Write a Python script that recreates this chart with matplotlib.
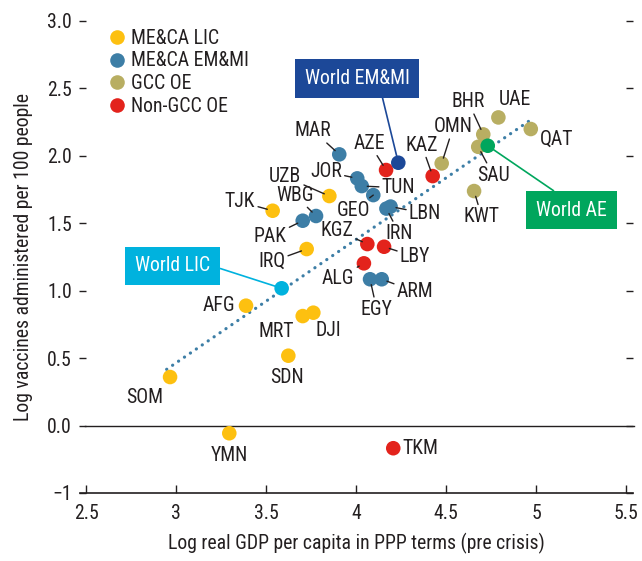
import matplotlib
matplotlib.use("Agg")
import matplotlib.pyplot as plt
from matplotlib import font_manager as fm
from matplotlib.lines import Line2D

# ---------------- data ----------------
countries = ["SOM", "YMN", "AFG", "MRT", "DJI", "SDN", "TJK", "IRQ", "UZB",
             "PAK", "WBG", "MAR", "JOR", "TUN", "GEO", "IRN", "LBN", "EGY", "ARM",
             "AZE", "KAZ", "KGZ", "LBY", "ALG", "TKM",
             "OMN", "BHR", "SAU", "UAE", "QAT", "KWT"]
gdp = [2.967, 3.296, 3.389, 3.704, 3.763, 3.624, 3.537, 3.726, 3.852,
       3.704, 3.778, 3.907, 4.007, 4.032, 4.096, 4.169, 4.192, 4.078, 4.143,
       4.167, 4.426, 4.063, 4.156, 4.044, 4.207,
       4.476, 4.707, 4.679, 4.791, 4.971, 4.656]
vacc = [0.360, -0.057, 0.889, 0.812, 0.837, 0.518, 1.593, 1.309, 1.702,
        1.519, 1.554, 2.011, 1.833, 1.776, 1.709, 1.609, 1.624, 1.085, 1.085,
        1.895, 1.850, 1.346, 1.326, 1.203, -0.168,
        1.944, 2.159, 2.067, 2.285, 2.199, 1.739]
group = ["ME&CA LIC"] * 9 + ["ME&CA EM&MI"] * 10 + ["Non-GCC OE"] * 6 + ["GCC OE"] * 6

groups = ["ME&CA LIC", "ME&CA EM&MI", "GCC OE", "Non-GCC OE"]
group_colors = ["#FDC010", "#3D7EA6", "#B8AE62", "#E3231C"]

world_names = ["World LIC", "World EM&MI", "World AE"]
world_gdp = [3.587, 4.235, 4.732]
world_vacc = [1.018, 1.949, 2.075]
world_colors = ["#00B2DE", "#1C4898", "#00A65D"]

trend_x = [2.948, 4.961]
trend_y = [0.417, 2.258]

yticks = [-0.5, 0.0, 0.5, 1.0, 1.5, 2.0, 2.5, 3.0]
ytick_labels = ["\u22121", "0.0", "0.5", "1.0", "1.5", "2.0", "2.5", "3.0"]
xticks = [2.5, 3.0, 3.5, 4.0, 4.5, 5.0, 5.5]
xtick_labels = ["2.5", "3", "3.5", "4", "4.5", "5", "5.5"]

# ---------------- label placement (offset points, leader line?) ----------------
label_pos = {
    "SOM": (-18, -14.4, False), "YMN": (0, -16.3, False), "AFG": (-19.7, 0, False),
    "MRT": (-18.7, -11.3, False), "DJI": (10.6, -12.5, False), "SDN": (-0.7, -15.6, False),
    "TJK": (-23.5, 6.5, True), "PAK": (-23.5, -11.5, True), "WBG": (-15.1, 15.1, True),
    "IRQ": (-25.2, -9.1, True), "UZB": (-31.9, 13.9, True), "MAR": (-18.7, 17, True),
    "JOR": (-22.5, 4.8, True), "TUN": (26.4, -1.2, True), "GEO": (-14.4, -10.8, True),
    "LBN": (24.8, -4.9, True), "IRN": (9.2, -17.9, True), "KGZ": (-22, 10.1, True),
    "LBY": (22.3, -7.2, True), "ALG": (-18.5, -10.8, True), "EGY": (4.8, -21.6, True),
    "ARM": (24, -8.9, True), "AZE": (-12, 19.2, True), "KAZ": (-7.9, 22.3, True),
    "OMN": (8.4, 26.4, True), "BHR": (-10.8, 23.5, True), "UAE": (12, 13, False),
    "QAT": (18.7, -7.4, False), "SAU": (10.8, -20.4, True), "KWT": (5.5, -18.5, True),
    "TKM": (19.2, 0, False),
}
box_pos = {"World LIC": (-78.3, 16.1, (1.0, 0.53)),
           "World EM&MI": (-29.7, 60.6, (0.72, 0.0)),
           "World AE": (60.3, -46.3, (0.45, 1.0))}

# ---------------- font ----------------
names = {f.name for f in fm.fontManager.ttflist}
FONT = "Liberation Sans"
for cand in ["Roboto Condensed", "Liberation Sans Narrow", "Liberation Sans"]:
    if cand in names:
        FONT = cand
        break
plt.rcParams["font.family"] = [FONT, "DejaVu Sans"]
FS = 14.2
TXT = "#231F20"

fig = plt.figure(figsize=(6.42, 5.61), dpi=100)
ax = fig.add_axes([86 / 642, 68 / 561, 540 / 642, 472 / 561])
ax.set_xlim(2.5, 5.5)
ax.set_ylim(-0.5, 3.0)

for s in ["left", "right", "top"]:
    ax.spines[s].set_visible(False)
ax.spines["bottom"].set_color(TXT)
ax.spines["bottom"].set_linewidth(1.2)
ax.spines["bottom"].set_bounds(2.467, 5.539)
ax.axhline(0, xmin=-0.002, xmax=1.015, color=TXT, lw=1.0, zorder=1, clip_on=False)

ax.set_xticks(xticks)
ax.set_xticklabels(xtick_labels)
ax.set_yticks(yticks)
ax.set_yticklabels(ytick_labels)
ax.tick_params(axis="x", direction="in", length=6, width=1, color=TXT, labelsize=FS,
               labelcolor=TXT, pad=8)
ax.tick_params(axis="y", direction="out", length=5, width=1, color=TXT, labelsize=FS,
               labelcolor=TXT, pad=5, right=True)

ax.set_xlabel("Log real GDP per capita in PPP terms (pre crisis)", fontsize=FS, color=TXT, labelpad=7)
ax.set_ylabel("Log vaccines administered per 100 people", fontsize=FS, color=TXT, labelpad=10)

# trend line
ax.plot(trend_x, trend_y, color="#3D7EA6", lw=2.3, linestyle=(0, (0.05, 2.2)),
        dash_capstyle="round", zorder=2)

# scatter by group
MS = 110
for g, c in zip(groups, group_colors):
    xs = [x for x, gg in zip(gdp, group) if gg == g]
    ys = [y for y, gg in zip(vacc, group) if gg == g]
    ax.scatter(xs, ys, s=MS, color=c, edgecolors="none", zorder=3)

# country labels
for name, x, y in zip(countries, gdp, vacc):
    dx, dy, line = label_pos[name]
    kw = {}
    if line:
        kw["arrowprops"] = dict(arrowstyle="-", color=TXT, lw=1.0, shrinkA=0, shrinkB=4)
    ax.annotate(name, xy=(x, y), xytext=(dx, dy), textcoords="offset points",
                ha="center", va="center", fontsize=FS, color=TXT, zorder=4, **kw)

# world markers and boxes
for name, x, y, c in zip(world_names, world_gdp, world_vacc, world_colors):
    ax.scatter([x], [y], s=MS, color=c, edgecolors="none", zorder=5)
    dx, dy, rp = box_pos[name]
    ax.annotate(name, xy=(x, y), xytext=(dx, dy), textcoords="offset points",
                ha="center", va="center", fontsize=FS, color="white", zorder=6,
                bbox=dict(boxstyle="square,pad=0.5", fc=c, ec="none"),
                arrowprops=dict(arrowstyle="-", color=c, lw=1.2, shrinkA=0, shrinkB=0,
                                relpos=rp))

# legend
handles = [Line2D([0], [0], marker="o", linestyle="none", markersize=10.5,
                  markerfacecolor=c, markeredgecolor="none") for c in group_colors]
leg = ax.legend(handles, groups, loc="upper left", bbox_to_anchor=(0.022, 1.0),
                frameon=False, fontsize=FS, handletextpad=0.2, labelspacing=0.18,
                borderaxespad=0.0, handlelength=1.1, labelcolor=TXT)

fig.savefig("out.png", dpi=100)
